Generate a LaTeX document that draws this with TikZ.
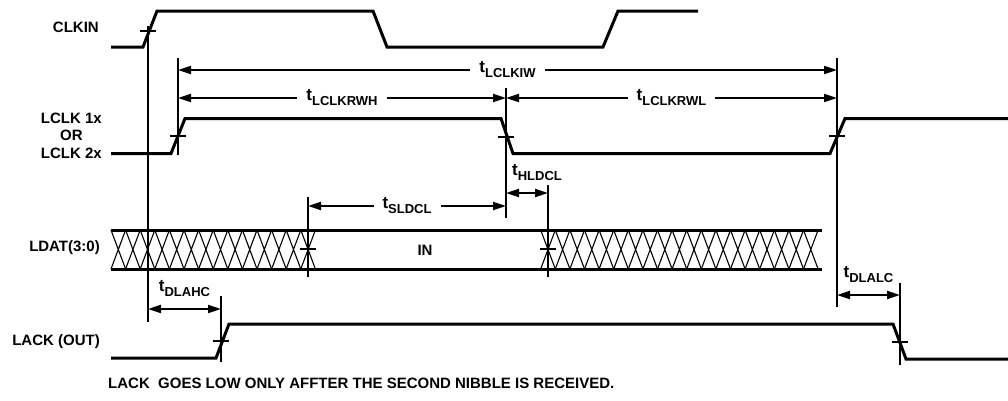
\documentclass[tikz,border=0pt]{standalone}
\usepackage{fontspec}
\setmainfont{Liberation Sans}
\usetikzlibrary{arrows.meta}
\newcommand{\tsym}[1]{{\fontsize{17}{17}\selectfont t}\raisebox{-5pt}{\fontsize{13}{13}\selectfont #1}}

\begin{document}
\begin{tikzpicture}[x=1pt, y=-1pt, font=\fontsize{15}{17.5}\selectfont\bfseries,
    sig/.style={line width=3pt, line join=miter},
    bus/.style={line width=3pt},
    guide/.style={line width=2pt},
    hatch/.style={line width=1.1pt},
    tickmark/.style={line width=1.6pt},
    dim/.style={line width=2pt, {Triangle[length=13pt,width=8pt]}-{Triangle[length=13pt,width=8pt]}},
    dimlbl/.style={fill=white, inner xsep=9pt, inner ysep=1pt},
    dimtop/.style={above=10pt, inner sep=1pt},
    signame/.style={anchor=east, align=center, inner sep=0pt}]
  \useasboundingbox (0,0) rectangle (1008,400);

  % signal names
  \node[signame] (nclk) at (99,27) {CLKIN};
  \node[signame] (nlclk) at (102,135.5) {LCLK 1x\\OR\\LCLK 2x};
  \node[signame] (ndat) at (100,248) {LDAT(3:0)};
  \node[signame] (nack) at (100,342) {LACK (OUT)};

  % waveforms
  \draw[sig] (111,47) -- (143,47) -- (157,11) -- (373,11) -- (387,47) -- (603,47) -- (618,11) -- (698,11);
  \draw[sig] (111,153.5) -- (171,153.5) -- (185,118.5) -- (501,118.5) -- (513,153.5) -- (830,153.5) -- (845,118.5) -- (1008,118.5);
  \draw[sig] (111,358) -- (216,358) -- (229,324) -- (893,324) -- (906,359) -- (1008,359);

  % data bus
  \draw[bus] (111,230) -- (822,230);
  \draw[bus] (111,269) -- (822,269);
  \foreach \i in {0,...,13}
    \draw[hatch] ({111+14.6*\i},230) -- ({125.6+14.6*\i},269)
                 ({125.6+14.6*\i},230) -- ({111+14.6*\i},269);
  \foreach \i in {0,...,18}
    \draw[hatch] ({540.7+14.6*\i},230) -- ({555.3+14.6*\i},269)
                 ({555.3+14.6*\i},230) -- ({540.7+14.6*\i},269);
  \node (nin) at (425,250) {IN};

  % reference lines
  \coordinate (gClk) at (148,26);  \coordinate (gClkB) at (148,322);
  \coordinate (gR1) at (178,58);   \coordinate (gR1B) at (178,155);
  \coordinate (gF1) at (506,88);   \coordinate (gF1B) at (506,218);
  \coordinate (gR2) at (837,58);   \coordinate (gR2B) at (837,307);
  \coordinate (gSu) at (308,197);  \coordinate (gSuB) at (308,277);
  \coordinate (gHd) at (548,185);  \coordinate (gHdB) at (548,277);
  \coordinate (gAr) at (221,296);  \coordinate (gArB) at (221,362);
  \coordinate (gAf) at (900,283);  \coordinate (gAfB) at (900,365);
  \foreach \g in {gClk,gR1,gF1,gR2,gSu,gHd,gAr,gAf}
    \draw[guide] (\g) -- (\g B);

  % crossing marks
  \foreach \x/\y in {148/31, 178/136, 506/137, 837/136, 308/249, 548/249, 221/341, 900/342}
    \draw[tickmark] (\x-8,\y) -- (\x+8,\y);

  % timing parameters
  \coordinate (yIW) at (0,70);
  \coordinate (yRW) at (0,98);
  \coordinate (ySL) at (0,206);
  \coordinate (yHL) at (0,193);
  \coordinate (yAH) at (0,309);
  \coordinate (yAL) at (0,295);
  \draw[dim] (gR1 |- yIW) -- node[dimlbl] {\tsym{LCLKIW}} (gR2 |- yIW);
  \draw[dim] (gR1 |- yRW) -- node[dimlbl] {\tsym{LCLKRWH}} (gF1 |- yRW);
  \draw[dim] (gF1 |- yRW) -- node[dimlbl] {\tsym{LCLKRWL}} (gR2 |- yRW);
  \draw[dim] (gSu |- ySL) -- node[dimlbl] {\tsym{SLDCL}} (gF1 |- ySL);
  \draw[dim] (gF1 |- yHL) -- node[dimtop, xshift=10pt] {\tsym{HLDCL}} (gHd |- yHL);
  \draw[dim] (gClk |- yAH) -- node[dimtop] {\tsym{DLAHC}} (gAr |- yAH);
  \draw[dim] (gR2 |- yAL) -- node[dimtop] {\tsym{DLALC}} (gAf |- yAL);

  \node[anchor=west, inner sep=0pt] (note) at (108,383) {LACK\ \ GOES LOW ONLY AFFTER THE SECOND NIBBLE IS RECEIVED.};
\end{tikzpicture}
\end{document}
